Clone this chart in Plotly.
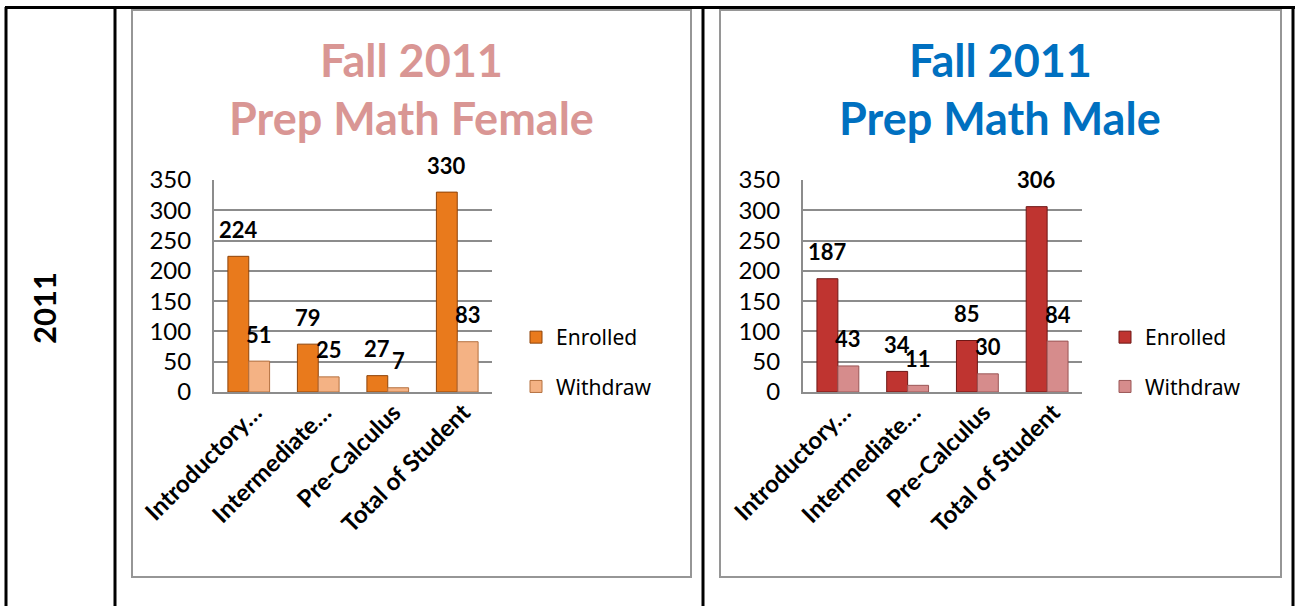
import plotly.graph_objects as go

W, H = 1296, 606

categories = ["Introductory…", "Intermediate…", "Pre-Calculus", "Total of Student"]
female_enrolled = [224, 79, 27, 330]
female_withdraw = [51, 25, 7, 83]
male_enrolled = [187, 34, 85, 306]
male_withdraw = [43, 11, 30, 84]
y_ticks = [0, 50, 100, 150, 200, 250, 300, 350]

row_label = "2011"
title_female = ["Fall 2011", "Prep Math Female"]
title_male = ["Fall 2011", "Prep Math Male"]

def px(x):
    return x / W

def py(y):
    return 1 - y / H

fig = go.Figure()

FONT = "Lato"
LEG_FONT = "Noto Sans"

charts = [
    dict(xa="x", ya="y", xaxis="xaxis", yaxis="yaxis", leg="legend",
         enr=female_enrolled, wd=female_withdraw,
         c_enr="#E97A1C", l_enr="#8E4309", c_wd="#F4B284", l_wd="#B4703F",
         dom=[px(214), px(492)], legx=px(516),
         title=title_female, tcol="#D99694", tcx=px(411)),
    dict(xa="x2", ya="y2", xaxis="xaxis2", yaxis="yaxis2", leg="legend2",
         enr=male_enrolled, wd=male_withdraw,
         c_enr="#BF3430", l_enr="#6E1715", c_wd="#D68C8C", l_wd="#9A5656",
         dom=[px(803), px(1082)], legx=px(1105),
         title=title_male, tcol="#0070C0", tcx=px(1000)),
]

for c in charts:
    fig.add_trace(go.Bar(
        x=categories, y=c["enr"], name="Enrolled",
        xaxis=c["xa"], yaxis=c["ya"], legend=c["leg"], legendgroup="e" + c["xa"],
        marker=dict(color=c["c_enr"], line=dict(color=c["l_enr"], width=1)),
        hoverinfo="skip"))
    fig.add_trace(go.Bar(
        x=categories, y=c["wd"], name="Withdraw",
        xaxis=c["xa"], yaxis=c["ya"], legend=c["leg"], legendgroup="w" + c["xa"],
        marker=dict(color=c["c_wd"], line=dict(color=c["l_wd"], width=1)),
        hoverinfo="skip"))
    # data labels
    for vals, shift in ((c["enr"], -10.5), (c["wd"], 10.5)):
        for cat, v in zip(categories, vals):
            fig.add_annotation(x=cat, y=v, xref=c["xa"], yref=c["ya"],
                               text=f"<b>{v}</b>", showarrow=False,
                               xshift=shift, yshift=27, yanchor="middle",
                               font=dict(family=FONT, size=22, color="black"))
    # titles
    for i, t in enumerate(c["title"]):
        fig.add_annotation(x=c["tcx"], y=py(60 + 58 * i), xref="paper", yref="paper",
                           text=f"<b>{t}</b>", showarrow=False,
                           xanchor="center", yanchor="middle",
                           font=dict(family=FONT, size=45, color=c["tcol"]))
    fig.update_layout({
        c["xaxis"]: dict(domain=c["dom"], anchor=c["ya"], tickangle=-45,
                         tickfont=dict(family=FONT, size=24, color="black", weight="bold"),
                         showline=True, linecolor="#8C8C8C", linewidth=2,
                         ticks="", showgrid=False, fixedrange=True, automargin=False,
                         ticklabelstandoff=-5, ticklabelshift=6),
        c["yaxis"]: dict(domain=[py(392), py(180)], anchor=c["xa"], range=[0, 350],
                         tickvals=y_ticks, ticks="", ticklen=0,
                         tickfont=dict(family=FONT, size=24, color="black"),
                         showline=True, linecolor="#8C8C8C", linewidth=2,
                         showgrid=True, gridcolor="#8C8C8C", gridwidth=2,
                         zeroline=False, fixedrange=True, automargin=False,
                         ticklabelstandoff=16),
        c["leg"]: dict(x=c["legx"], y=py(362), xanchor="left", yanchor="middle",
                       font=dict(family=LEG_FONT, size=21, color="black"),
                       tracegroupgap=19, bgcolor="rgba(0,0,0,0)", itemwidth=30),
    })

# row label
fig.add_annotation(x=px(44), y=py(308), xref="paper", yref="paper",
                   text=f"<b>{row_label}</b>", showarrow=False, textangle=-90,
                   xanchor="center", yanchor="middle",
                   font=dict(family=FONT, size=31, color="black"))

# table borders (black)
shapes = []
for x in (6, 115, 703, 1293):
    shapes.append(dict(type="line", xref="paper", yref="paper",
                       x0=px(x), x1=px(x), y0=py(7), y1=py(606),
                       line=dict(color="black", width=3)))
shapes.append(dict(type="line", xref="paper", yref="paper",
                   x0=px(5), x1=px(1295), y0=py(7.5), y1=py(7.5),
                   line=dict(color="black", width=3)))
# chart frames (gray)
for x0, x1 in ((132, 691), (720, 1281)):
    shapes.append(dict(type="rect", xref="paper", yref="paper",
                       x0=px(x0), x1=px(x1), y0=py(577), y1=py(10),
                       line=dict(color="#969696", width=2)))
fig.update_layout(shapes=shapes)

fig.update_layout(
    width=W, height=H, margin=dict(l=0, r=0, t=0, b=0, autoexpand=False),
    paper_bgcolor="white", plot_bgcolor="white",
    barmode="group", bargap=0.4, bargroupgap=0,
    showlegend=True,
)

fig.write_html("out.html", config={"displayModeBar": False},
               post_script="document.body.style.margin='0';document.body.style.padding='0';document.body.style.overflow='hidden';")
